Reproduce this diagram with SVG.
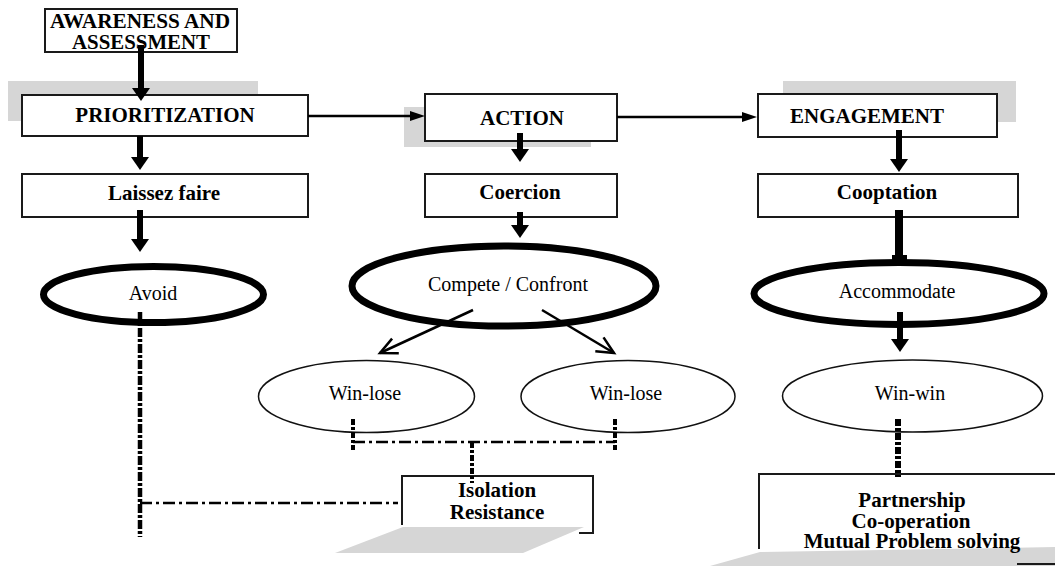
<svg xmlns="http://www.w3.org/2000/svg" width="1055" height="566" viewBox="0 0 1055 566">
<style>
.bg{fill:#fff}
.box{fill:#fff;stroke:#1a1a1a;stroke-width:2}
.open{fill:none;stroke:#1a1a1a;stroke-width:2}
.shadow{fill:#d6d6d6}
.lbl{font-family:"Liberation Serif","Times New Roman",serif;font-weight:bold;font-size:21px;text-anchor:middle;fill:#000}
.etx{font-family:"Liberation Serif","Times New Roman",serif;font-size:20px;text-anchor:middle;fill:#000}
.thick{fill:#fff;stroke:#000;stroke-width:7}
.thin{fill:#fff;stroke:#111;stroke-width:1.5}
.arr{stroke:#000;stroke-width:6;fill:none;marker-end:url(#ah)}
.hl{stroke:#000;stroke-width:2.5;fill:none;marker-end:url(#ahs)}
.dg{stroke:#000;stroke-width:2.5;fill:none;marker-end:url(#av)}
.ddv{stroke:#000;stroke-width:4.5;fill:none;stroke-dasharray:9 2 3 2}
.ddh{stroke:#000;stroke-width:2.5;fill:none;stroke-dasharray:12 4 3 4}
.dds{stroke:#000;stroke-width:4;fill:none;stroke-dasharray:6 2 3 2}
</style>
<defs>
<marker id="ah" markerUnits="userSpaceOnUse" markerWidth="14" markerHeight="18" refX="1" refY="9" orient="auto">
<path d="M0,0 L13,9 L0,18 Z" fill="#000"/>
</marker>
<marker id="ahs" markerUnits="userSpaceOnUse" markerWidth="16" markerHeight="10" refX="1" refY="5" orient="auto">
<path d="M0,0 L15,5 L0,10 Z" fill="#000"/>
</marker>
<marker id="av" markerUnits="userSpaceOnUse" markerWidth="22" markerHeight="22" refX="18" refY="11" orient="auto" style="overflow:visible">
<path d="M1,3 L18,11 L1,19" fill="none" stroke="#000" stroke-width="2.5"/>
</marker>
</defs>
<rect class="bg" x="0" y="0" width="1055" height="566"/>

<g id="node-awareness">
<rect class="box" x="45" y="9" width="192" height="43"/>
<text class="lbl" x="140" y="28" font-size="19" textLength="180" lengthAdjust="spacingAndGlyphs">AWARENESS AND</text>
<text class="lbl" x="141" y="49" font-size="19" textLength="138" lengthAdjust="spacingAndGlyphs">ASSESSMENT</text>
</g>

<g id="node-prioritization">
<rect class="shadow" x="8" y="81" width="250" height="40"/>
<rect class="box" x="22" y="95" width="286" height="41"/>
<text class="lbl" x="165" y="122">PRIORITIZATION</text>
</g>

<g id="node-action">
<rect class="shadow" x="404" y="107" width="187" height="40"/>
<rect class="box" x="425" y="94" width="192" height="47"/>
<text class="lbl" x="522" y="125">ACTION</text>
</g>

<g id="node-engagement">
<rect class="shadow" x="783" y="81" width="233" height="41"/>
<rect class="box" x="758" y="94" width="239" height="43"/>
<text class="lbl" x="867" y="123">ENGAGEMENT</text>
</g>

<g id="node-laissez">
<rect class="box" x="22" y="174" width="286" height="43"/>
<text class="lbl" x="164" y="200">Laissez faire</text>
</g>

<g id="node-coercion">
<rect class="box" x="425" y="174" width="192" height="43"/>
<text class="lbl" x="520" y="199">Coercion</text>
</g>

<g id="node-cooptation">
<rect class="box" x="758" y="174" width="260" height="43"/>
<text class="lbl" x="887" y="199">Cooptation</text>
</g>

<g id="node-avoid">
<ellipse class="thick" cx="153.5" cy="294.5" rx="110" ry="28"/>
<text class="etx" x="153" y="300">Avoid</text>
</g>

<g id="node-compete">
<ellipse class="thick" cx="504" cy="286" rx="152" ry="40" stroke-width="8"/>
<text class="etx" x="508" y="291">Compete / Confront</text>
</g>

<g id="node-accommodate">
<ellipse class="thick" cx="899" cy="293.5" rx="145" ry="31"/>
<text class="etx" x="897" y="298">Accommodate</text>
</g>

<g id="node-winlose-left">
<ellipse class="thin" cx="366.5" cy="396.5" rx="108" ry="36"/>
<text class="etx" x="365" y="400">Win-lose</text>
</g>

<g id="node-winlose-right">
<ellipse class="thin" cx="628" cy="396.5" rx="107" ry="36"/>
<text class="etx" x="626" y="400">Win-lose</text>
</g>

<g id="node-winwin">
<ellipse class="thin" cx="912.5" cy="396" rx="130" ry="36"/>
<text class="etx" x="910" y="400">Win-win</text>
</g>

<g id="node-isolation">
<rect x="403" y="477" width="189" height="50" fill="#fff"/>
<path class="open" d="M402,525 V476 H593 V533 H579"/>
<polygon class="shadow" points="403,527 584,527 523,553 335,553"/>
<text class="lbl" x="497" y="497" font-size="20">Isolation</text>
<text class="lbl" x="497" y="519" font-size="20">Resistance</text>
</g>

<g id="node-partnership">
<rect x="759" y="475" width="296" height="75" fill="#fff"/>
<path class="open" d="M759,549 V474 H1055"/>
<polygon class="shadow" points="710,566 760,552 1055,547 1055,566"/>
<path class="open" d="M1017,564 H1055"/>
<text class="lbl" x="912" y="507" font-size="20">Partnership</text>
<text class="lbl" x="911" y="528" font-size="20">Co-operation</text>
<text class="lbl" x="912" y="548" font-size="20">Mutual Problem solving</text>
</g>

<g id="connectors">
<line class="arr" x1="141" y1="45" x2="141" y2="89"/>
<line class="arr" x1="140" y1="136" x2="140" y2="158"/>
<line class="arr" x1="140" y1="210" x2="140" y2="240"/>
<line class="arr" x1="520" y1="133" x2="520" y2="150" stroke-width="5"/>
<line class="arr" x1="520" y1="212" x2="520" y2="226" stroke-width="5"/>
<line class="arr" x1="899" y1="130" x2="899" y2="160" stroke-width="8"/>
<line x1="899" y1="210" x2="899" y2="262" stroke="#000" stroke-width="8"/>
<rect x="892" y="255" width="15" height="7" fill="#000"/>
<line class="arr" x1="900" y1="312" x2="900" y2="340" stroke-width="5"/>
<line class="hl" x1="308" y1="116" x2="411" y2="116"/>
<line class="hl" x1="617" y1="117" x2="743" y2="117"/>
<line class="dg" x1="473" y1="310" x2="380" y2="353"/>
<line class="dg" x1="542" y1="310" x2="614" y2="353"/>
<line class="ddv" x1="140" y1="312" x2="140" y2="537"/>
<line class="ddh" x1="140" y1="503" x2="398" y2="503"/>
<line class="dds" x1="353" y1="419" x2="353" y2="450"/>
<line class="dds" x1="615" y1="419" x2="615" y2="450"/>
<line class="ddh" x1="353" y1="442" x2="615" y2="442"/>
<line class="dds" x1="472" y1="442" x2="472" y2="483"/>
<line x1="898" y1="419" x2="898" y2="477" stroke="#000" stroke-width="6" stroke-dasharray="7 2 3 2"/>
</g>
</svg>
